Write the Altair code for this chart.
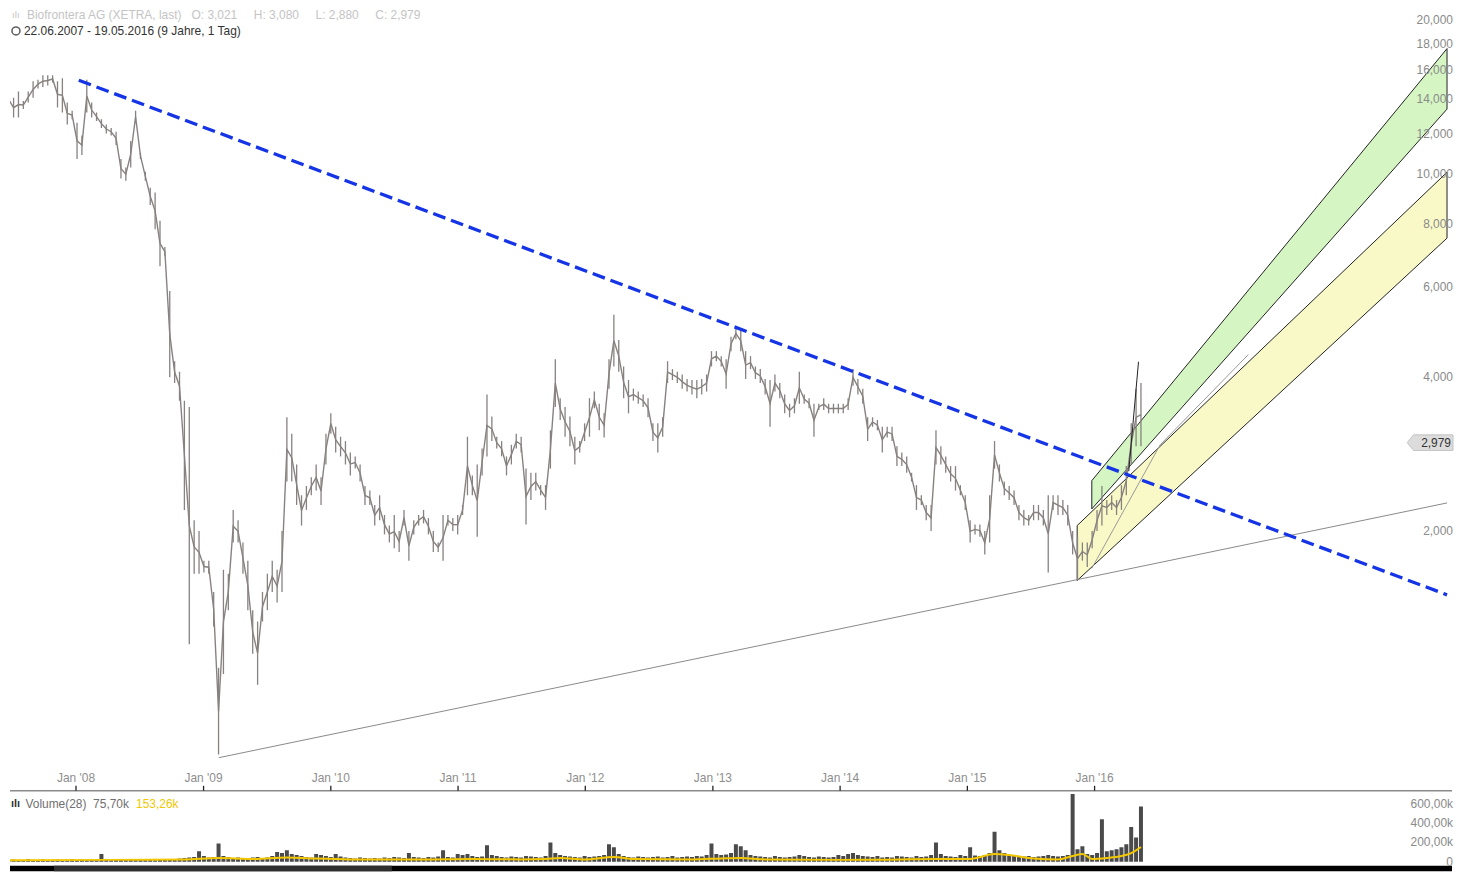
import altair as alt
import pandas as pd
import numpy as np

# ---------------- data ----------------
start_date = "2007-06-22"
n_points = 233  # two-week steps to 19.05.2016

price_low = [
    13.5, 12.9, 12.9, 13.4, 13.8, 14.1, 14.7, 14.8, 14.9, 15.1,
    13.5, 13.2, 12.5, 12.8, 10.7, 10.9, 13.2, 12.9, 12.7, 12.3,
    12.0, 11.9, 11.4, 9.8, 9.7, 10.3, 12.6, 10.7, 9.7, 8.7,
    7.8, 6.6, 6.9, 4.0, 3.9, 3.6, 2.2, 1.2, 1.65, 1.65,
    1.66, 1.65, 1.3, 0.73, 1.05, 1.4, 1.9, 1.9, 1.65, 1.4,
    1.15, 1.0, 1.33, 1.4, 1.52, 1.45, 1.52, 2.5, 2.5, 2.25,
    2.05, 2.2, 2.35, 2.4, 2.25, 2.7, 3.1, 2.85, 2.8, 2.7,
    2.57, 2.65, 2.5, 2.25, 2.25, 2.05, 2.1, 1.97, 1.9, 1.85,
    1.82, 2.05, 1.75, 1.97, 2.05, 2.07, 1.97, 1.82, 1.82, 1.75,
    2.05, 2.0, 1.97, 2.15, 2.35, 2.35, 1.95, 2.57, 2.8, 3.0,
    2.9, 2.8, 2.57, 2.7, 2.9, 2.85, 2.06, 2.3, 2.4, 2.35,
    2.2, 2.65, 3.5, 3.3, 3.06, 2.93, 2.7, 2.85, 3.0, 3.06,
    3.48, 3.15, 3.05, 3.8, 4.2, 4.1, 3.64, 3.4, 3.6, 3.55,
    3.5, 3.34, 3.0, 2.85, 3.06, 3.9, 3.95, 3.9, 3.8, 3.75,
    3.7, 3.64, 3.7, 3.75, 4.2, 4.3, 4.2, 3.8, 4.5, 4.75,
    4.5, 3.97, 4.15, 3.97, 3.9, 3.7, 3.2, 3.75, 3.64, 3.4,
    3.34, 3.4, 3.55, 3.55, 3.48, 3.06, 3.45, 3.45, 3.4, 3.4,
    3.4, 3.4, 3.45, 3.85, 3.7, 3.55, 3.0, 3.2, 3.15, 2.85,
    3.05, 3.0, 2.68, 2.68, 2.6, 2.5, 2.2, 2.25, 2.1, 2.0,
    2.7, 2.7, 2.6, 2.5, 2.4, 2.35, 2.2, 1.9, 1.97, 1.95,
    1.8, 1.9, 2.65, 2.5, 2.35, 2.3, 2.25, 2.1, 2.05, 2.05,
    2.1, 2.1, 2.05, 1.66, 2.2, 2.15, 2.15, 2.05, 1.8, 1.6,
    1.75, 1.7, 1.85, 2.0, 2.05, 2.15, 2.2, 2.15, 2.2, 2.35,
    2.7, 2.93, 2.93,
]
price_high = [
    14.5, 14.1, 14.5, 13.9, 14.5, 15.2, 15.3, 15.6, 15.6, 15.6,
    15.2, 15.4, 13.8, 13.3, 12.6, 11.9, 15.3, 13.8, 13.2, 12.8,
    12.5, 12.3, 12.1, 10.7, 10.3, 11.6, 13.3, 11.0, 10.1, 9.4,
    9.2, 8.1, 7.2, 5.9, 4.3, 4.1, 3.6, 3.5, 2.1, 2.0,
    1.75, 1.75, 1.52, 1.08, 1.68, 1.65, 2.2, 2.1, 1.9, 1.75,
    1.4, 1.33, 1.52, 1.65, 1.75, 1.68, 2.0, 3.34, 3.1, 2.7,
    2.35, 2.45, 2.55, 2.7, 2.55, 3.1, 3.4, 3.2, 3.06, 3.0,
    2.85, 2.8, 2.7, 2.45, 2.4, 2.25, 2.35, 2.15, 2.05, 2.15,
    2.0, 2.2, 2.0, 2.1, 2.15, 2.2, 2.12, 2.0, 1.9, 2.15,
    2.15, 2.12, 2.15, 2.25, 3.06, 2.57, 2.7, 2.9, 3.7, 3.35,
    3.06, 3.0, 2.8, 2.95, 3.1, 3.06, 2.65, 2.6, 2.6, 2.46,
    2.46, 3.15, 4.34, 3.64, 3.5, 3.35, 3.06, 3.0, 3.25, 3.64,
    3.75, 3.55, 3.4, 4.34, 5.3, 4.73, 4.2, 3.95, 3.8, 3.75,
    3.7, 3.64, 3.25, 3.25, 3.34, 4.3, 4.15, 4.1, 4.05, 3.97,
    3.95, 3.95, 3.97, 4.05, 4.5, 4.5, 4.4, 4.34, 4.8, 5.0,
    4.94, 4.5, 4.4, 4.2, 4.15, 3.97, 3.95, 4.05, 3.9, 3.7,
    3.55, 3.64, 4.1, 3.7, 3.64, 3.55, 3.55, 3.64, 3.55, 3.55,
    3.55, 3.55, 3.64, 4.15, 3.97, 3.8, 3.34, 3.34, 3.3, 3.2,
    3.2, 3.2, 2.93, 2.85, 2.8, 2.6, 2.46, 2.35, 2.25, 2.25,
    3.15, 2.93, 2.8, 2.68, 2.68, 2.46, 2.35, 2.1, 2.06, 2.06,
    2.0, 2.35, 3.0, 2.7, 2.5, 2.45, 2.4, 2.25, 2.2, 2.15,
    2.25, 2.25, 2.2, 2.35, 2.35, 2.35, 2.3, 2.25, 2.0, 1.95,
    1.9, 1.9, 2.0, 2.2, 2.45, 2.3, 2.35, 2.3, 2.46, 2.68,
    3.25, 3.8, 3.9,
]
volume_k = [
    20, 25, 15, 20, 30, 20, 15, 25, 20, 18,
    25, 20, 15, 30, 20, 25, 20, 18, 22, 80,
    20, 15, 18, 25, 20, 30, 22, 18, 25, 20,
    15, 20, 30, 25, 20, 35, 40, 45, 50, 110,
    60, 45, 50, 190, 60, 50, 40, 45, 35, 40,
    45, 50, 40, 45, 60, 100, 90, 120, 80, 70,
    60, 50, 45, 80, 70, 60, 50, 80, 55, 45,
    40, 35, 45, 40, 35, 40, 35, 45, 40, 50,
    45, 40, 90, 50, 45, 40, 50, 45, 55, 120,
    50, 45, 80, 70, 80, 60, 50, 55, 170, 70,
    60, 50, 45, 55, 50, 45, 60, 55, 50, 45,
    60, 200, 90, 70, 60, 55, 50, 45, 60, 50,
    55, 60, 70, 180, 150, 80, 60, 50, 45, 55,
    50, 45, 50, 55, 45, 50, 60, 45, 50, 55,
    50, 60, 55, 70, 190, 80, 70, 75, 90, 180,
    160, 120, 70, 60, 55, 50, 45, 60, 50, 45,
    50, 55, 70, 60, 50, 45, 55, 50, 45, 50,
    70, 60, 80, 90, 70, 60, 55, 50, 60, 45,
    50, 45, 60, 55, 50, 45, 60, 50, 55, 70,
    200, 80, 60, 55, 50, 70, 60, 150, 65, 60,
    70, 90, 310, 120, 90, 70, 60, 50, 55, 60,
    50, 55, 60, 70, 60, 55, 60, 70, 700, 130,
    160, 80, 70, 90, 440, 110, 120, 130, 150, 180,
    360, 250, 570,
]
ma_index = [0, 20, 36, 43, 50, 57, 62, 70, 85, 95, 105, 110, 113, 118, 124, 128,
            140, 146, 150, 155, 170, 180, 190, 197, 202, 205, 210, 215, 218, 220,
            222, 225, 228, 230, 232]
ma_k = [15, 20, 25, 40, 30, 45, 35, 25, 25, 30, 25, 30, 40, 25, 50, 30,
        25, 35, 40, 25, 20, 22, 30, 30, 80, 70, 35, 25, 60, 80,
        30, 40, 60, 90, 153]

# drawn lines (date, price)
resist_dates = ["2008-01-09", "2018-10-08"]
resist_prices = [15.26, 1.50]
support_dates = ["2009-02-14", "2018-10-08"]
support_prices = [0.72, 2.27]

yellow_dates = ["2015-11-12", "2018-10-08"]
yellow_lo = [1.60, 7.49]
yellow_hi = [2.05, 10.08]
green_dates = ["2015-12-24", "2018-10-08"]
green_lo = [2.21, 13.4]
green_hi = [2.51, 17.6]
fan_dates = ["2015-12-24", "2016-07-07", "2017-03-17"]
fan_prices = [1.69, 2.95, 4.43]
spike_dates = ["2016-04-08", "2016-05-06"]
spike_prices = [2.62, 4.29]

price_ticks = [2, 4, 6, 8, 10, 12, 14, 16, 18, 20]
volume_ticks = [0, 200, 400, 600]
year_ticks = ["2008-01-01", "2009-01-01", "2010-01-01", "2011-01-01", "2012-01-01",
              "2013-01-01", "2014-01-01", "2015-01-01", "2016-01-01"]
last_close = 2.979

header_1 = ["Biofrontera AG (XETRA, last)", "O: 3,021", "H: 3,080", "L: 2,880", "C: 2,979"]
header_2 = "22.06.2007 - 19.05.2016 (9 Jahre, 1 Tag)"

# ---------------- frames ----------------
dates = pd.date_range(start_date, periods=n_points, freq="14D")
df_price = pd.DataFrame({"date": dates, "low": price_low, "high": price_high})
df_price["mid"] = np.sqrt(df_price["low"] * df_price["high"])
df_vol = pd.DataFrame({"date": dates, "vol": volume_k})
df_ma = pd.DataFrame({"date": dates[ma_index], "ma": ma_k})
df_res = pd.DataFrame({"date": pd.to_datetime(resist_dates), "p": resist_prices})
df_sup = pd.DataFrame({"date": pd.to_datetime(support_dates), "p": support_prices})
df_yel = pd.DataFrame({"date": pd.to_datetime(yellow_dates), "lo": yellow_lo, "hi": yellow_hi})
df_grn = pd.DataFrame({"date": pd.to_datetime(green_dates), "lo": green_lo, "hi": green_hi})
df_fan = pd.DataFrame({"date": pd.to_datetime(fan_dates), "p": fan_prices})
df_spk = pd.DataFrame({"date": pd.to_datetime(spike_dates), "p": spike_prices})
df_strip = pd.DataFrame({"d1": pd.to_datetime(["2007-06-01", "2007-10-30"]),
                         "d2": pd.to_datetime(["2018-12-31", "2010-06-25"]),
                         "v1": [-100, -100], "v2": [-40, -40],
                         "c": ["#000000", "#2f2f2f"]})
df_tag = pd.DataFrame({"p": [last_close], "t": ["2,979"]})
df_pt = pd.DataFrame({"p": price_ticks, "t": [f"{v:.3f}".replace(".", ",") for v in price_ticks]})
df_vt = pd.DataFrame({"v": volume_ticks,
                      "t": ["0" if v == 0 else f"{v:.2f}".replace(".", ",") + "k" for v in volume_ticks]})
df_xt = pd.DataFrame({"date": pd.to_datetime(year_ticks),
                      "t": ["Jan '" + d[2:4] for d in year_ticks]})

W, H = 1447, 864
FONT = "Liberation Sans"
AXIS_Y = 783   # x-axis line (px from top)
NB = "\u00a0"

xscale = alt.Scale(domain=[alt.DateTime(year=2007, month=7, date=10),
                           alt.DateTime(year=2018, month=10, date=8)])
pscale = alt.Scale(type="log", domain=[0.431, 20.9])
vscale = alt.Scale(domain=[-100, 8780], zero=False)

X0 = alt.X("date:T", scale=xscale, axis=None)


def PY(field):
    return alt.Y(field, scale=pscale, axis=None)


def VY(field):
    return alt.Y(field, scale=vscale, axis=None)


yellow = alt.Chart(df_yel).mark_area(color="#f9f9c8", stroke="#222222", strokeWidth=1, clip=True, opacity=1).encode(
    x=X0, y=PY("lo:Q"), y2="hi:Q")
green = alt.Chart(df_grn).mark_area(color="#d5f5c2", stroke="#222222", strokeWidth=1, clip=True, opacity=1).encode(
    x=X0, y=PY("lo:Q"), y2="hi:Q")
fan = alt.Chart(df_fan).mark_line(color="#9a9a9a", strokeWidth=1, clip=True).encode(
    x=X0, y=PY("p:Q"))
support = alt.Chart(df_sup).mark_line(color="#8a8a8a", strokeWidth=1, clip=True).encode(
    x=X0, y=PY("p:Q"))
price_rules = alt.Chart(df_price).mark_rule(color="#878180", strokeWidth=1.3, clip=True).encode(
    x=X0, y=PY("high:Q"), y2="low:Q")
price_line = alt.Chart(df_price).mark_line(color="#878180", strokeWidth=1.4, clip=True).encode(
    x=X0, y=PY("mid:Q"))
spike = alt.Chart(df_spk).mark_line(color="#222222", strokeWidth=1, clip=True).encode(
    x=X0, y=PY("p:Q"))
resist = alt.Chart(df_res).mark_line(color="#1434e6", strokeWidth=3.3, strokeDash=[13, 6], clip=True).encode(
    x=X0, y=PY("p:Q"))
tag = alt.Chart(df_tag).mark_point(
    shape="M-1,0 L-0.72,-0.34 L1,-0.34 L1,0.34 L-0.72,0.34 Z", size=2116, filled=True,
    color="#dcdcdc", stroke="#c4c4c4", strokeWidth=1, opacity=1).encode(
    x=alt.value(1425), y=PY("p:Q"))
tag_text = alt.Chart(df_tag).mark_text(align="right", baseline="middle", fontSize=12, font=FONT,
                                       color="#333333").encode(
    x=alt.value(W - 1), y=PY("p:Q"), text="t:N")
p_labels = alt.Chart(df_pt).mark_text(align="right", baseline="middle", fontSize=12, font=FONT,
                                      color="#8a8a8a").encode(
    x=alt.value(W + 1), y=PY("p:Q"), text="t:N")

strip = alt.Chart(df_strip).mark_rect(clip=True).encode(
    x=alt.X("d1:T", scale=xscale, axis=None), x2="d2:T",
    y=VY("v1:Q"), y2="v2:Q",
    color=alt.Color("c:N", scale=None))
bars = alt.Chart(df_vol).mark_bar(color="#4a4a4a", size=4, clip=True).encode(
    x=X0, y=VY("vol:Q"))
ma = alt.Chart(df_ma).mark_line(color="#f2c700", strokeWidth=2, clip=True, interpolate="monotone").encode(
    x=X0, y=VY("ma:Q"))
v_labels = alt.Chart(df_vt).mark_text(align="right", baseline="middle", fontSize=12, font=FONT,
                                      color="#8a8a8a").encode(
    x=alt.value(W + 1), y=VY("v:Q"), text="t:N")

# x axis (labels above the line, ticks pointing up)
x_line = alt.Chart(df_tag).mark_rule(color="#8a8a8a", strokeWidth=1.5).encode(
    x=alt.value(0), x2=alt.value(W), y=alt.value(AXIS_Y))
x_ticks = alt.Chart(df_xt).mark_rule(color="#222222", strokeWidth=1.3).encode(
    x=X0, y=alt.value(AXIS_Y - 5), y2=alt.value(AXIS_Y))
x_labels = alt.Chart(df_xt).mark_text(align="center", baseline="bottom", fontSize=12, font=FONT,
                                      color="#8e8e8e").encode(
    x=X0, y=alt.value(AXIS_Y - 6), text="t:N")

# header texts
line1 = header_1[0] + NB * 3 + (NB * 5).join(header_1[1:])
t1 = alt.Chart(pd.DataFrame({"t": [line1]})
               ).mark_text(align="left", baseline="middle", fontSize=12, font=FONT, color="#c4c4c4").encode(
    x=alt.value(17), y=alt.value(5), text="t:N")
i1 = alt.Chart(pd.DataFrame({"t": ["ılı"]})).mark_text(
    align="left", baseline="middle", fontSize=10, font=FONT, color="#c8c8c8").encode(
    x=alt.value(2), y=alt.value(5), text="t:N")
t2 = alt.Chart(pd.DataFrame({"t": [header_2]})
               ).mark_text(align="left", baseline="middle", fontSize=12, font=FONT, color="#333333").encode(
    x=alt.value(14), y=alt.value(20.5), text="t:N")
clock = alt.Chart(df_tag).mark_point(shape="circle", size=64, filled=False, color="#222222",
                                     strokeWidth=1.6).encode(x=alt.value(6), y=alt.value(20.5))
vl1 = alt.Chart(pd.DataFrame({"t": ["Volume(28)" + NB * 2 + "75,70k"]})).mark_text(
    align="left", baseline="middle", fontSize=12, font=FONT, color="#707070").encode(
    x=alt.value(15.5), y=alt.value(796), text="t:N")
vl2 = alt.Chart(pd.DataFrame({"t": ["153,26k"]})).mark_text(
    align="left", baseline="middle", fontSize=12, font=FONT, color="#f2c700").encode(
    x=alt.value(126.5), y=alt.value(796), text="t:N")
vi = alt.Chart(pd.DataFrame({"t": ["ılı"]})).mark_text(
    align="left", baseline="middle", fontSize=11, fontWeight="bold", font=FONT, color="#333333").encode(
    x=alt.value(1), y=alt.value(796), text="t:N")

chart = alt.layer(
    yellow, green, fan, support, price_rules, price_line, spike, resist, tag, tag_text, p_labels,
    strip, bars, ma, v_labels,
    x_line, x_ticks, x_labels, t1, i1, t2, clock, vl1, vl2, vi,
).resolve_scale(y="independent").properties(
    width=W, height=H, padding=0, background="white").configure_view(strokeWidth=0)

chart.save("out.html", embed_options={"renderer": "svg", "actions": False})
